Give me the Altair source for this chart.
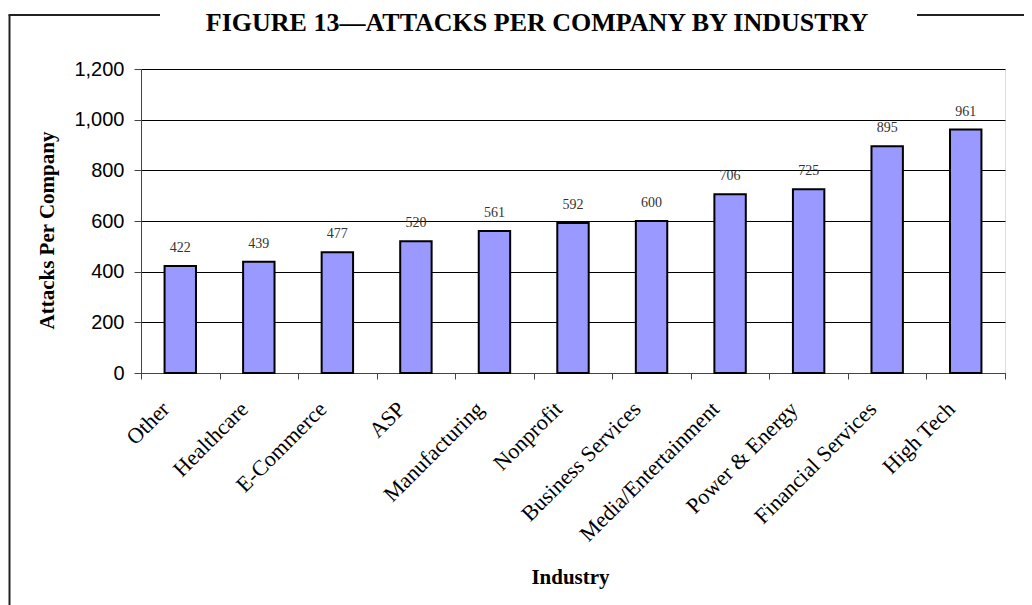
import altair as alt
import pandas as pd

industries = ["Other", "Healthcare", "E-Commerce", "ASP", "Manufacturing", "Nonprofit",
              "Business Services", "Media/Entertainment", "Power & Energy",
              "Financial Services", "High Tech"]
attacks = [422, 439, 477, 520, 561, 592, 600, 706, 725, 895, 961]
y_ticks = [0, 200, 400, 600, 800, 1000, 1200]
title_text = "FIGURE 13\u2014ATTACKS PER COMPANY BY INDUSTRY"

df = pd.DataFrame({"Industry": industries, "Attacks": attacks})
one = alt.Data(values=[{"k": 1}])

SERIF = "Liberation Serif"
SANS = "Liberation Sans"

x_enc = alt.X(
    "Industry:N", sort=industries,
    scale=alt.Scale(paddingInner=0, paddingOuter=0),
    axis=alt.Axis(
        title="Industry", labelAngle=-45, labelAlign="right", labelBaseline="top",
        labelFont=SERIF, labelFontSize=22, labelColor="black",
        labelPadding=19, labelOffset=-22, labelOverlap=False, labelLimit=400,
        tickBand="extent", tickSize=6, tickColor="#444", domainColor="#444",
        grid=False,
        titleFont=SERIF, titleFontSize=21, titleFontWeight="bold", titleColor="black",
        titleX=429, titleY=204, titleBaseline="middle", titleAlign="center",
    ),
)
y_enc = alt.Y(
    "Attacks:Q",
    scale=alt.Scale(domain=[0, 1200], nice=False),
    axis=alt.Axis(
        values=y_ticks, format=",.0f", title="Attacks Per Company",
        labelFont=SANS, labelFontSize=20, labelColor="black", labelPadding=10,
        tickSize=7, tickColor="#444", domainColor="#444",
        grid=True, gridColor="black", gridWidth=1,
        titleFont=SERIF, titleFontSize=21, titleFontWeight="bold", titleColor="black",
        titleAngle=-90, titleX=-94, titleY=161, titleAlign="center", titleBaseline="middle",
    ),
)

bars = alt.Chart(df).mark_bar(
    width=alt.RelativeBandSize(0.4), color="#9999FF", stroke="black", strokeWidth=2
).encode(x=x_enc, y=y_enc)

labels = alt.Chart(df).mark_text(
    baseline="alphabetic", dy=-14, font=SERIF, fontSize=14, color="#333333"
).encode(x=alt.X("Industry:N", sort=industries), y="Attacks:Q", text="Attacks:Q")

title = alt.Chart(one).mark_text(
    font=SERIF, fontSize=26, fontWeight="bold", color="black",
    align="center", baseline="alphabetic", text=title_text
).encode(x=alt.value(396), y=alt.value(-38))

frame_color = "#222222"
frame_left = alt.Chart(one).mark_rule(color=frame_color, strokeWidth=2).encode(
    x=alt.value(-131.5), y=alt.value(-54), y2=alt.value(540))
frame_top_a = alt.Chart(one).mark_rule(color=frame_color, strokeWidth=2).encode(
    x=alt.value(-132.5), x2=alt.value(19), y=alt.value(-54))
frame_top_b = alt.Chart(one).mark_rule(color=frame_color, strokeWidth=2).encode(
    x=alt.value(776), x2=alt.value(900), y=alt.value(-54))

chart = alt.layer(bars, labels, title, frame_left, frame_top_a, frame_top_b).properties(
    width=864, height=304,
    autosize=alt.AutoSizeParams(type="none"),
    padding={"left": 133, "top": 61, "right": 19, "bottom": 232},
).configure_view(stroke="#808080", strokeWidth=1).configure(background="white")

chart.save("out.html", embed_options={"renderer": "svg", "actions": False})
